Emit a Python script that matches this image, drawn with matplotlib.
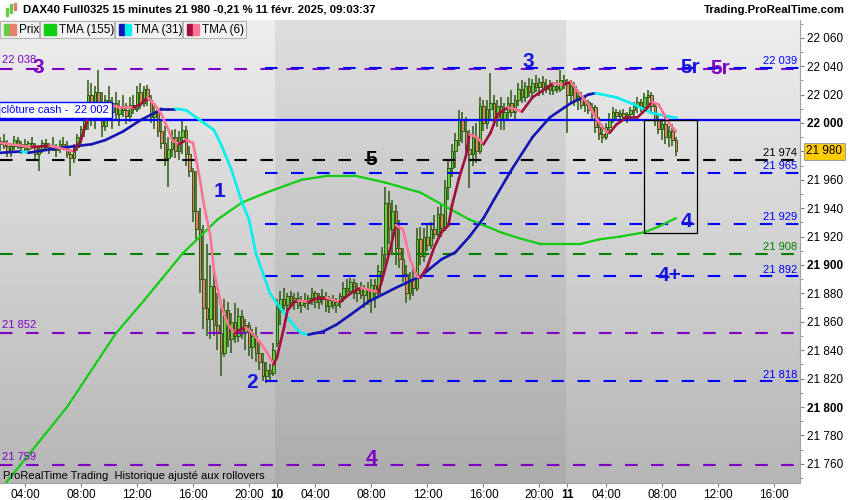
import matplotlib
matplotlib.use("Agg")
import matplotlib.pyplot as plt
import matplotlib.transforms as mtransforms
import numpy as np
from matplotlib.collections import LineCollection
from matplotlib.patches import Rectangle

plt.rcParams['font.family'] = ['Liberation Sans', 'DejaVu Sans']

# ---------------- data (15 min bars, index 0 = first bar of Fri 7 Feb) ----------------
firstBar = 4
opens = [21985, 21987, 21984, 21980, 21984, 21988, 21983, 21985, 21982, 21986, 21984, 21978,
         21982, 21986, 21983, 21984, 21981, 21983, 21985, 21984, 21978, 21975, 21983, 21990,
         21996, 22008, 22020, 22004, 22022, 22012, 21998, 22016, 22008, 22014, 22006, 22012,
         22009, 22005, 22013, 22010, 22022, 22014, 22024,
         22016, 22004, 22008, 21994, 21986, 21975, 21982, 21990, 21980, 21990, 21995, 21978,
         21966, 21938, 21925, 21890, 21870, 21862, 21885, 21858, 21852, 21838, 21868, 21848,
         21860, 21850, 21864, 21853, 21858, 21842, 21850, 21838, 21832, 21822, 21826, 21824,
         21845, 21870, 21876, 21872,
         21878, 21874, 21877, 21872, 21875, 21873, 21877, 21880, 21874, 21878, 21876, 21871,
         21875, 21872, 21874, 21878, 21884, 21882, 21888, 21880, 21884, 21879, 21883, 21876,
         21886, 21880, 21896, 21908, 21944, 21925, 21938, 21912, 21904, 21894, 21880, 21890,
         21884, 21918, 21906, 21920, 21914, 21925, 21922, 21936, 21926,
         21955, 21968, 21980, 21988, 22002, 21994, 21982, 21978, 21990, 21980, 22012, 22000,
         22010, 22014, 22004, 22012, 22002, 22008, 22014, 22008, 22016, 22024, 22018, 22026,
         22022, 22028, 22025, 22029, 22024, 22027, 22023, 22026, 22024, 22030,
         22028, 22020, 22026, 22016, 22019, 22013, 22015, 22009, 22011, 21997, 21992, 21990,
         21997, 22003, 22008, 22005, 22007, 22004, 22006, 22009, 22012, 22015, 22011, 22018,
         22020, 22012, 22002, 21996, 21999, 21990, 21994, 21988]
highs = [21990, 21992, 21988, 21986, 21991, 21990, 21987, 21989, 21987, 21990, 21986, 21984,
         21988, 21989, 21986, 21990, 21985, 21988, 21990, 21987, 21982, 21985, 21992, 21998,
         22012, 22030, 22028, 22026, 22037, 22022, 22020, 22026, 22018, 22022, 22016, 22020,
         22014, 22018, 22020, 22026, 22028, 22026, 22027,
         22020, 22012, 22010, 22002, 21998, 21990, 21995, 21996, 21994, 22003, 21998, 21984,
         21968, 21966, 21940, 21928, 21915, 21900, 21895, 21880, 21870, 21876, 21874, 21866,
         21873, 21870, 21868, 21862, 21860, 21855, 21856, 21845, 21838, 21832, 21830, 21845,
         21876, 21882, 21884, 21880,
         21882, 21880, 21881, 21878, 21880, 21879, 21884, 21882, 21880, 21883, 21881, 21878,
         21879, 21877, 21880, 21888, 21890, 21891, 21890, 21887, 21888, 21886, 21888, 21890,
         21890, 21900, 21913, 21955, 21952, 21946, 21942, 21932, 21912, 21900, 21895, 21898,
         21926, 21927, 21926, 21928, 21930, 21935, 21941, 21942, 21960,
         21974, 21985, 21993, 22009, 22008, 22004, 21995, 21998, 22000, 22018, 22016, 22016,
         22035, 22020, 22016, 22018, 22014, 22018, 22023, 22020, 22028, 22030, 22029, 22032,
         22031, 22034, 22032, 22033, 22031, 22030, 22029, 22030, 22037, 22034,
         22031, 22030, 22029, 22023, 22022, 22018, 22016, 22014, 22013, 22004, 21999, 22000,
         22007, 22011, 22010, 22009, 22010, 22008, 22011, 22015, 22018, 22017, 22021, 22023,
         22022, 22014, 22006, 22003, 22004, 21998, 21999, 21990]
lows = [21980, 21982, 21976, 21976, 21981, 21982, 21978, 21980, 21978, 21982, 21974, 21966,
        21979, 21981, 21978, 21980, 21976, 21979, 21982, 21975, 21963, 21972, 21980, 21985,
        21990, 21995, 21998, 21996, 22005, 21990, 21994, 22002, 21996, 22003, 21998, 22004,
        21999, 22001, 22006, 22008, 22010, 22011, 22012,
        22000, 21996, 21990, 21982, 21970, 21955, 21976, 21975, 21974, 21978, 21970, 21962,
        21930, 21918, 21880, 21855, 21850, 21848, 21850, 21840, 21822, 21835, 21842, 21838,
        21845, 21846, 21848, 21840, 21836, 21834, 21832, 21826, 21818, 21817, 21818, 21822,
        21842, 21858, 21868, 21866,
        21870, 21868, 21869, 21866, 21870, 21868, 21872, 21870, 21869, 21872, 21867, 21866,
        21869, 21866, 21870, 21874, 21878, 21879, 21876, 21874, 21876, 21870, 21872, 21866,
        21870, 21878, 21890, 21900, 21915, 21908, 21900, 21898, 21888, 21873, 21875, 21878,
        21882, 21900, 21902, 21910, 21911, 21918, 21920, 21920, 21924,
        21946, 21962, 21968, 21984, 21986, 21975, 21954, 21970, 21972, 21978, 21994, 21996,
        22002, 21998, 21997, 21995, 21995, 22002, 22004, 22002, 22012, 22014, 22015, 22018,
        22017, 22022, 22019, 22020, 22021, 22020, 22020, 22021, 22022, 22024,
        21993, 22014, 22012, 22009, 22010, 22008, 22006, 22002, 21993, 21988, 21986, 21988,
        21993, 22000, 22002, 22001, 22002, 22000, 22003, 22004, 22007, 22008, 22009, 22012,
        22008, 21998, 21992, 21988, 21985, 21983, 21984, 21977]
closes = [21987, 21984, 21980, 21984, 21988, 21983, 21985, 21982, 21986, 21984, 21978, 21982,
          21986, 21983, 21984, 21981, 21983, 21985, 21984, 21978, 21975, 21983, 21990, 21996,
          22008, 22020, 22004, 22022, 22012, 21998, 22016, 22008, 22014, 22006, 22012, 22009,
          22005, 22013, 22010, 22022, 22014, 22024, 22016,
          22004, 22008, 21994, 21986, 21975, 21982, 21990, 21980, 21990, 21995, 21978, 21966,
          21938, 21925, 21890, 21870, 21862, 21885, 21858, 21852, 21838, 21868, 21848, 21860,
          21850, 21864, 21853, 21858, 21842, 21850, 21838, 21832, 21822, 21826, 21824, 21840,
          21870, 21876, 21872, 21878,
          21874, 21877, 21872, 21875, 21873, 21877, 21880, 21874, 21878, 21876, 21871, 21875,
          21872, 21874, 21878, 21884, 21882, 21888, 21880, 21884, 21879, 21883, 21876, 21886,
          21880, 21896, 21908, 21944, 21925, 21938, 21912, 21904, 21894, 21880, 21890, 21884,
          21918, 21906, 21920, 21914, 21925, 21922, 21936, 21926, 21955,
          21968, 21980, 21988, 22002, 21994, 21982, 21978, 21990, 21980, 22012, 22000, 22010,
          22014, 22004, 22012, 22002, 22008, 22014, 22008, 22016, 22024, 22018, 22026, 22022,
          22028, 22025, 22029, 22024, 22027, 22023, 22026, 22024, 22030, 22028,
          22020, 22026, 22016, 22019, 22013, 22015, 22009, 22011, 21997, 21992, 21990, 21997,
          22003, 22008, 22005, 22007, 22004, 22006, 22009, 22012, 22015, 22011, 22018, 22020,
          22012, 22002, 21996, 21999, 21990, 21994, 21988, 21980]

# triangular moving averages (bar index, value)
tma6Bars = [4, 13, 18, 23, 25, 27, 30, 32, 35, 38, 42, 44, 46, 48, 50, 52, 53, 55, 57, 59,
            61, 62, 64, 65, 67, 69, 71, 72, 74, 76, 78, 80, 82, 83, 85, 86, 88, 89, 92, 95,
            97, 101, 104, 107, 110, 112, 113, 115, 117, 119, 121, 123, 124, 126, 128, 130,
            132, 133, 135, 137, 138, 140, 142, 144, 146, 149, 152, 153, 156, 159, 162, 165,
            167, 169, 172, 174, 177, 178, 180, 183, 186, 189, 190, 192, 195, 197]
tma6 = [21986, 21983, 21984, 21981, 21980, 21988, 22012, 22014, 22013, 22011, 22011, 22013,
        22018, 22013, 22006, 21995, 21988, 21985, 21988, 21986, 21960, 21944, 21920, 21896,
        21872, 21858, 21852, 21854, 21856, 21852, 21846, 21839, 21830, 21835, 21856, 21868,
        21874, 21875, 21874, 21877, 21877, 21874, 21880, 21884, 21882, 21881, 21889, 21908,
        21928, 21925, 21904, 21892, 21891, 21899, 21913, 21923, 21928, 21942, 21961, 21977,
        21992, 21990, 21985, 21993, 22006, 22011, 22009, 22008, 22018, 22023, 22028, 22027,
        22029, 22022, 22013, 22004, 21994, 21993, 21999, 22004, 22004, 22011, 22015, 22013,
        22000, 21994]
tma31Bars = [4, 10, 12, 17, 23, 30, 34, 39, 44, 48, 50, 52, 54, 57, 61, 65, 67, 70, 73, 75,
             77, 79, 81, 83, 86, 89, 90, 92, 96, 100, 104, 109, 113, 117, 124, 130, 134, 138,
             142, 145, 150, 156, 161, 167, 172, 174, 180, 185, 190, 196, 197]
tma31 = [21979, 21980, 21979, 21981, 21983, 21985, 21988, 21994, 22002, 22007, 22010, 22010,
         22010, 22009, 22002, 21995, 21985, 21967, 21944, 21932, 21908, 21894, 21880, 21873,
         21863, 21854, 21852, 21851, 21853, 21858, 21865, 21874, 21879, 21884, 21892, 21904,
         21909, 21920, 21933, 21946, 21967, 21990, 22004, 22014, 22020, 22021, 22018, 22013,
         22007, 22004, 22004]
tma155Bars = [4, 7, 23, 37, 45, 47, 56, 66, 73, 80, 90, 98, 105, 114, 124, 132, 138, 147,
              152, 158, 164, 170, 175, 181, 188, 192, 197]
tma155 = [21742, 21751, 21800, 21852, 21875, 21881, 21908, 21932, 21944, 21951, 21960, 21963,
          21963, 21958, 21951, 21940, 21932, 21923, 21919, 21915, 21915, 21915, 21918, 21920,
          21923, 21927, 21933]

# x axis
tickBars = [11, 27, 43, 59, 75, 83, 94, 110, 126, 142, 158, 166, 177, 193, 209, 225]
tickLabels = ["04:00", "08:00", "12:00", "16:00", "20:00", "10", "04:00", "08:00", "12:00",
              "16:00", "20:00", "11", "04:00", "08:00", "12:00", "16:00"]
day10 = (82.5, 165.5)

# drawn levels
purpleLevels = [22038, 21852, 21759]
blueLevels = [22039, 21965, 21929, 21892, 21818]
blackLevel = 21974
greenLevel = 21908
cashClose = 22002
lastPrice = 21980

# ---------------- figure ----------------
W, H = 850, 500
fig = plt.figure(figsize=(8.5, 5), dpi=100)
fig.patch.set_facecolor('white')
ax = fig.add_axes([0, 17 / H, 800 / W, (483 - 20) / H])
xlo, xhi = 3.86, 232.43
ylo, yhi = 21746.5, 22072.5


def fmt(v):
    return f"{v:,}".replace(",", " ")


def grey(top, bottom):
    g = (top + (bottom - top) * np.linspace(0, 1, 256)[:, None]) / 255.0
    return np.dstack([g, g, g])


ax.imshow(grey(238, 182), extent=(xlo, xhi, ylo, yhi), aspect='auto', zorder=0)
ax.imshow(grey(222, 172), extent=(day10[0], day10[1], ylo, yhi), aspect='auto', zorder=0.1)

# levels
dash = (0, (6, 6.5))
blueStart = 79.6
for v in purpleLevels:
    ax.plot([xlo, xhi], [v, v], color='#7d00c4', lw=1.5, ls=dash, zorder=2.5)
    ax.text(xlo + 0.5, v + 2.5, fmt(v), color='#7d00c4', fontsize=8, va='bottom', zorder=4)
for v in blueLevels:
    ax.plot([blueStart, xhi], [v, v], color='#0000ff', lw=1.5, ls=dash, zorder=2.6)
    ax.text(xhi - 0.8, v + 1.2, fmt(v), color='#0000ff', fontsize=8, ha='right', va='bottom', zorder=4)
ax.plot([xlo, xhi], [blackLevel, blackLevel], color='black', lw=1.5, ls=dash, zorder=2.5)
ax.text(xhi - 0.8, blackLevel + 1.2, fmt(blackLevel), color='black', fontsize=8, ha='right', va='bottom', zorder=4)
ax.plot([xlo, xhi], [greenLevel, greenLevel], color='#008000', lw=1.5, ls=dash, zorder=2.5)
ax.text(xhi - 0.8, greenLevel + 1.2, fmt(greenLevel), color='#008000', fontsize=8, ha='right', va='bottom', zorder=4)
ax.axhline(cashClose, color='#0000ff', lw=1.6, zorder=2.6)
ax.text(xlo + 0.4, cashClose + 3.5, "clôture cash -  " + fmt(cashClose), color='#0000ff', fontsize=8,
        va='bottom', zorder=5,
        bbox=dict(boxstyle='square,pad=0.25', facecolor='white', edgecolor='#0000ff', linewidth=1))

# candles
x = np.arange(firstBar, firstBar + len(closes))
o, h, l, c = (np.array(a, float) for a in (opens, highs, lows, closes))
edge = '#2d5a10'
ax.vlines(x, np.minimum(l, np.minimum(o, c)), np.maximum(h, np.maximum(o, c)), color=edge, lw=1.1, zorder=2)
bodyH = np.maximum(np.abs(c - o), 0.8)
ax.bar(x, bodyH, bottom=np.minimum(o, c), width=0.6,
       color=np.where(c >= o, '#66cc44', '#e8806e'), edgecolor=edge, linewidth=0.7, zorder=2.1)


def colouredLine(xs, ys, upColour, downColour, lw):
    xs, ys = np.asarray(xs, float), np.asarray(ys, float)
    pts = np.column_stack([xs, ys])
    segs = np.stack([pts[:-1], pts[1:]], axis=1)
    cols, last = [], upColour
    for d in np.diff(ys):
        if d > 0:
            last = upColour
        elif d < 0:
            last = downColour
        cols.append(last)
    ax.add_collection(LineCollection(segs, colors=cols, linewidths=lw, capstyle='round',
                                     joinstyle='round', zorder=3))


colouredLine(tma155Bars, tma155, '#12cc12', '#12cc12', 1.6)
colouredLine(tma31Bars, tma31, '#1414b4', '#00f0f0', 1.9)
colouredLine(tma6Bars, tma6, '#a0103c', '#ff7494', 1.9)

# hand drawn box and labels
ax.add_patch(Rectangle((187.9, 21922.5), 15.1, cashClose - 21922.5, fill=False, ec='black', lw=0.9, zorder=3.5))
big = dict(fontsize=15, fontweight='bold', ha='center', va='center', zorder=5)
ax.text(14.7, 22039.4, "3", color='#7d00c4', **big)
ax.text(66.7, 21951.4, "1", color='#1414e0', **big)
ax.text(75.9, 21817.6, "2", color='#1414e0', **big)
ax.text(109.9, 21974.0, "5", color='black', **big)
ax.text(154.7, 22043.0, "3", color='#1414e0', **big)
ax.text(201.0, 22039.4, "5r", color='#1414e0', **big)
ax.text(209.6, 22038.0, "5r", color='#7d00c4', **big)
ax.text(199.9, 21930.3, "4", color='#1414e0', **big)
ax.text(195.3, 21892.3, "4+", color='#1414e0', **big)
ax.text(109.9, 21764.0, "4", color='#7d00c4', **big)
ax.text(0.004, 0.004, "ProRealTime Trading  Historique ajusté aux rollovers", transform=ax.transAxes,
        fontsize=8, va='bottom', zorder=5)

ax.set_xlim(xlo, xhi)
ax.set_ylim(ylo, yhi)

# axes
for s in ('top', 'left'):
    ax.spines[s].set_visible(False)
for s in ('right', 'bottom'):
    ax.spines[s].set_color('#a0a0a0')
    ax.spines[s].set_linewidth(0.8)
ax.yaxis.tick_right()
yt = list(range(21760, 22061, 20))
ax.set_yticks(yt)
ax.set_yticklabels(["" if v == lastPrice else fmt(v) for v in yt])
for v, lab in zip(yt, ax.get_yticklabels()):
    if v % 100 == 0:
        lab.set_fontweight('bold')
        lab.set_fontsize(9.5)
ax.set_yticks(range(21750, 22071, 10), minor=True)
ax.tick_params(axis='y', which='major', length=3, pad=2, labelsize=8.5, color='#808080')
ax.tick_params(axis='y', which='minor', length=2, color='#808080')
ax.set_xticks(tickBars)
ax.set_xticklabels(tickLabels)
for lab in ax.get_xticklabels():
    if len(lab.get_text()) == 2:
        lab.set_fontweight('bold')
        lab.set_fontsize(9.5)
ax.tick_params(axis='x', length=3, pad=1, labelsize=8.5, color='#808080')

trans = mtransforms.blended_transform_factory(ax.transAxes, ax.transData)
ax.text(1.008, lastPrice, fmt(lastPrice), transform=trans, fontsize=8.5, va='center', ha='left',
        bbox=dict(boxstyle='square,pad=0.2', facecolor='#ffcc00', edgecolor='#a0a0a0', linewidth=0.8),
        clip_on=False, zorder=6)


# header & legend strip (pixel helpers)
def px(x0, y0, w, hgt, **kw):
    fig.patches.append(Rectangle((x0 / W, 1 - (y0 + hgt) / H), w / W, hgt / H,
                                 transform=fig.transFigure, **kw))


fig.text(23 / W, 1 - 10 / H, "DAX40 Full0325 15 minutes 21 980 -0,21 % 11 févr. 2025, 09:03:37",
         fontsize=8.2, fontweight='bold', va='center')
fig.text(845 / W, 1 - 10 / H, "Trading.ProRealTime.com", fontsize=8.2, fontweight='bold',
         va='center', ha='right')
px(6, 8, 2, 8, color='#66cc44')
px(10, 4, 2, 9, color='#66cc44')
px(14, 3, 2, 7, color='#e8806e')

boxes = [(0, 39, "Prix", ('#66cc44', '#e8806e')), (40, 74, "TMA (155)", ('#12cc12', '#12cc12')),
         (115, 67, "TMA (31)", ('#1414b4', '#00f0f0')), (183, 63, "TMA (6)", ('#a0103c', '#ff7494'))]
for bx, bw, label, (c1, c2) in boxes:
    px(bx, 21, bw, 17, facecolor='#f2f2f2', edgecolor='#b4b4b4', linewidth=0.8, zorder=10)
    px(bx + 4, 24, 6, 11, color=c1, zorder=11)
    px(bx + 10, 24, 6, 11, color=c2, zorder=11)
    fig.text((bx + 19) / W, 1 - 30 / H, label, fontsize=8.5, va='center', zorder=12)

fig.savefig("out.png", dpi=100)
